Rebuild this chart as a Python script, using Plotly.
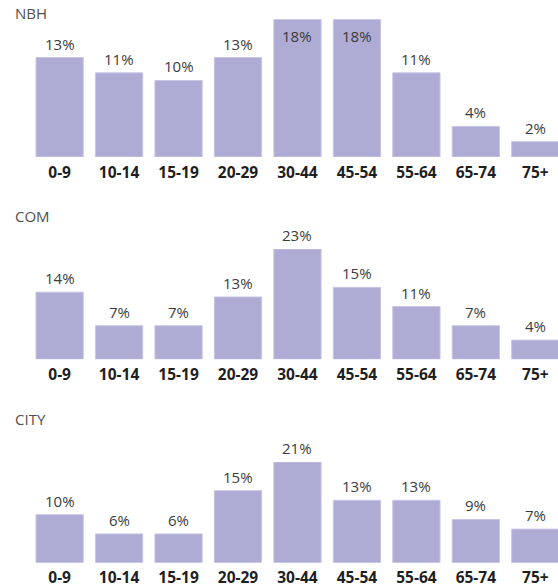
import plotly.graph_objects as go

categories = ["0-9", "10-14", "15-19", "20-29", "30-44", "45-54", "55-64", "65-74", "75+"]
panel_names = ["NBH", "COM", "CITY"]
nbh_values = [13, 11, 10, 13, 18, 18, 11, 4, 2]
com_values = [14, 7, 7, 13, 23, 15, 11, 7, 4]
city_values = [10, 6, 6, 15, 21, 13, 13, 9, 7]

W, H = 558, 587
BAR = "#aeabd4"
FONT = "Open Sans"

# pixel geometry of each panel: (baseline_px, top_px, title_px)
panels = [
    (nbh_values, 157.0, 19.3, 13.5),
    (com_values, 359.3, 249.0, 215.7),
    (city_values, 562.7, 461.9, 419.0),
]

fig = go.Figure()
annotations = []
x_left = 29.9
x_dom = [x_left / W, 1.0]
x_range = [-0.5, -0.5 + (W - x_left) / 59.46]

for i, (vals, base, top, title_y) in enumerate(panels):
    idx = "" if i == 0 else str(i + 1)
    vmax = max(vals)
    fig.add_trace(go.Bar(
        x=categories, y=vals,
        marker=dict(color=BAR, line=dict(color="#c9c6e4", width=1)),
        width=0.795,
        xaxis="x" + idx, yaxis="y" + idx,
        hoverinfo="skip", showlegend=False,
    ))
    fig.update_layout(**{
        "xaxis" + idx: dict(
            domain=x_dom, range=x_range, anchor="y" + idx,
            showgrid=False, zeroline=False, showline=False, ticks="",
            tickfont=dict(family=FONT, size=15.5, color="#1f1f1f", weight="bold"),
            ticklabelstandoff=4,
            automargin=False, fixedrange=True,
        ),
        "yaxis" + idx: dict(
            domain=[(H - base) / H, (H - top) / H], range=[0, vmax],
            anchor="x" + idx, visible=False, fixedrange=True,
        ),
    })
    for c, v in zip(categories, vals):
        inside = v == vmax and i == 0
        annotations.append(dict(
            x=c, y=v, xref="x" + idx, yref="y" + idx,
            text=f"{v}%", showarrow=False,
            yanchor="middle", yshift=-17 if inside else 14,
            font=dict(family=FONT, size=15, color="#3c3c3c"),
        ))
    annotations.append(dict(
        x=12.7 / W, y=(H - title_y) / H, xref="paper", yref="paper",
        xanchor="left", yanchor="middle", text=panel_names[i], showarrow=False,
        font=dict(family=FONT, size=15, color="#505050"),
    ))

fig.update_layout(
    width=W, height=H,
    margin=dict(l=0, r=0, t=0, b=0),
    paper_bgcolor="white", plot_bgcolor="white",
    annotations=annotations, bargap=0.2,
)

fig.write_html(
    "out.html",
    config={"displayModeBar": False},
    post_script="document.body.style.margin='0';document.body.style.overflow='hidden';",
)
